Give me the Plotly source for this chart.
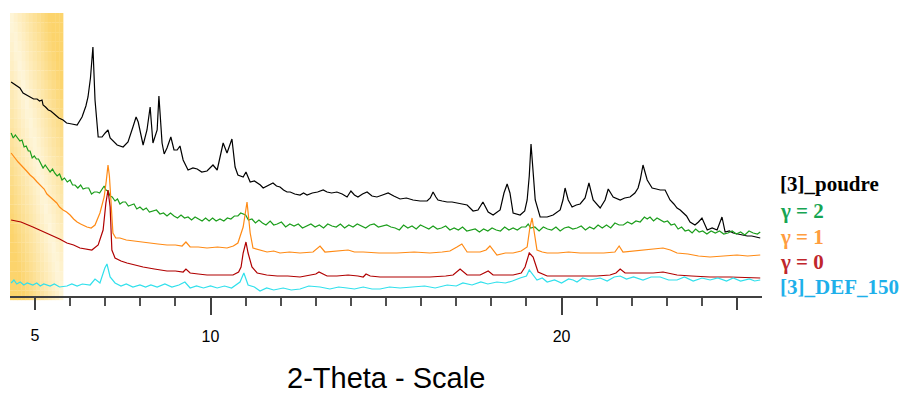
import plotly.graph_objects as go

# ---------------- data (2-Theta in degrees, intensity in arbitrary offset units) ----------------
poudre_tt = [4.32, 4.40, 4.48, 4.57, 4.66, 4.76, 4.86, 4.96, 5.06, 5.13, 5.20, 5.23, 5.30, 5.38, 5.45, 5.51,
             5.60, 5.68, 5.80, 5.90, 6.05, 6.20, 6.34, 6.45, 6.51, 6.58, 6.65, 6.71, 6.80, 6.91, 7.00, 7.08,
             7.14, 7.34, 7.51, 7.65, 7.79, 7.88, 7.94, 8.08, 8.19, 8.28, 8.36, 8.48, 8.53, 8.62, 8.68, 8.76,
             8.87, 8.96, 9.05, 9.13, 9.22, 9.36, 9.50, 9.62, 9.75, 9.90, 10.07, 10.19, 10.36, 10.47, 10.61,
             10.70, 10.78, 10.93, 11.01, 11.13, 11.25, 11.33, 11.42, 11.50, 11.60, 11.70, 11.78, 11.88, 11.98,
             12.08, 12.18, 12.27, 12.40, 12.55, 12.65, 12.75, 12.90, 13.05, 13.21, 13.32, 13.45, 13.60, 13.75,
             13.89, 14.00, 14.10, 14.20, 14.33, 14.46, 14.60, 14.74, 14.90, 15.06, 15.22, 15.40, 15.58, 15.77,
             15.97, 16.17, 16.26, 16.34, 16.42, 16.48, 16.60, 16.74, 16.88, 17.02, 17.16, 17.31, 17.48, 17.62,
             17.76, 17.91, 18.05, 18.18, 18.25, 18.36, 18.45, 18.53, 18.62, 18.82, 18.95, 19.02, 19.08, 19.13,
             19.19, 19.25, 19.39, 19.59, 19.76, 19.96, 20.04, 20.10, 20.19, 20.30, 20.42, 20.53, 20.67, 20.78,
             20.90, 21.10, 21.24, 21.33, 21.47, 21.67, 21.80, 21.95, 22.09, 22.18, 22.24, 22.32, 22.44, 22.58,
             22.70, 22.81, 22.95, 23.09, 23.20, 23.29, 23.38, 23.46, 23.56, 23.66, 23.80, 23.90, 24.00, 24.15,
             24.29, 24.43, 24.57, 24.66, 24.78, 24.89, 25.00, 25.12, 25.29, 25.42, 25.54, 25.66]
poudre_int = [214, 212, 210, 208, 203, 201, 199, 197, 197, 195, 196, 191, 189, 186, 185, 183,
              181, 178, 176, 173, 172, 171, 179, 190, 199, 218, 249, 196, 159, 159, 163, 166,
              158, 151, 149, 154, 169, 179, 174, 151, 166, 189, 153, 166, 200, 153, 142, 148,
              159, 146, 146, 150, 136, 126, 128, 127, 124, 125, 131, 126, 153, 143, 157,
              129, 121, 119, 124, 114, 115, 113, 111, 108, 110, 112, 113, 110, 109,
              106, 104, 104, 102, 101, 103, 101, 103, 104, 106, 104, 103, 104, 102,
              99, 105, 101, 99, 102, 104, 100, 99, 101, 103, 100, 97, 98, 96,
              95, 95, 98, 104, 99, 96, 95, 94, 94, 93, 92, 91, 85, 86,
              94, 84, 81, 84, 86, 103, 112, 103, 83, 81, 85, 96, 120, 152,
              120, 96, 79, 79, 81, 86, 96, 108, 96, 89, 91, 92, 98, 113,
              96, 88, 96, 107, 99, 96, 98, 99, 103, 108, 116, 131, 116, 108,
              107, 106, 106, 96, 92, 88, 86, 83, 80, 74, 71, 74, 78, 66,
              68, 66, 79, 64, 65, 63, 62, 61, 60, 60, 59, 58]

gamma2_tt = [4.32, 4.38, 4.44, 4.50, 4.57, 4.63, 4.69, 4.75, 4.81, 4.86, 4.92, 4.98, 5.04, 5.10, 5.16, 5.23,
             5.29, 5.36, 5.43, 5.50, 5.56, 5.63, 5.70, 5.77, 5.84, 5.92, 6.00, 6.07, 6.14, 6.22, 6.30, 6.37,
             6.45, 6.53, 6.61, 6.69, 6.77, 6.84, 6.91, 6.97, 7.02, 7.08, 7.14, 7.20, 7.28, 7.35, 7.42, 7.50,
             7.58, 7.66, 7.74, 7.82, 7.90, 7.99, 8.08, 8.17, 8.26, 8.36, 8.46, 8.56, 8.66, 8.76, 8.86, 8.96,
             9.06, 9.16, 9.26, 9.36, 9.46, 9.56, 9.66, 9.76, 9.86, 9.96, 10.06, 10.16, 10.27, 10.38, 10.48,
             10.58, 10.68, 10.78, 10.86, 10.92, 11.00, 11.08, 11.18, 11.28, 11.38, 11.48, 11.58, 11.70, 11.80,
             11.90, 12.02, 12.14, 12.26, 12.38, 12.50, 12.62, 12.74, 12.86, 12.98, 13.10, 13.22, 13.34, 13.46,
             13.58, 13.70, 13.82, 13.94, 14.06, 14.18, 14.30, 14.42, 14.54, 14.66, 14.78, 14.90, 15.02, 15.14,
             15.26, 15.38, 15.50, 15.62, 15.74, 15.86, 15.98, 16.10, 16.22, 16.34, 16.46, 16.58, 16.70, 16.82,
             16.94, 17.06, 17.18, 17.30, 17.42, 17.54, 17.66, 17.78, 17.90, 18.02, 18.14, 18.26, 18.38, 18.50,
             18.62, 18.74, 18.86, 18.98, 19.05, 19.12, 19.24, 19.36, 19.48, 19.60, 19.72, 19.84, 19.96, 20.08,
             20.20, 20.32, 20.44, 20.56, 20.68, 20.80, 20.92, 21.04, 21.16, 21.28, 21.40, 21.52, 21.64, 21.76,
             21.88, 22.00, 22.12, 22.24, 22.36, 22.44, 22.52, 22.62, 22.72, 22.82, 22.92, 23.02, 23.12, 23.22,
             23.32, 23.42, 23.52, 23.62, 23.72, 23.82, 23.92, 24.02, 24.14, 24.26, 24.38, 24.50, 24.62, 24.74,
             24.86, 24.98, 25.10, 25.22, 25.34, 25.46, 25.58, 25.66]
gamma2_int = [163, 158, 161, 158, 155, 156, 149, 150, 145, 145, 138, 140, 137, 137, 132, 128,
              131, 128, 124, 127, 123, 120, 122, 116, 118, 114, 116, 111, 111, 108, 111, 107,
              108, 108, 102, 104, 104, 103, 107, 110, 106, 105, 100, 99, 95, 97, 92, 94,
              94, 90, 91, 92, 87, 89, 86, 88, 84, 85, 86, 82, 83, 80, 83, 80,
              78, 81, 78, 79, 76, 79, 77, 75, 78, 75, 78, 75, 77, 75, 78,
              77, 80, 80, 83, 82, 81, 76, 77, 73, 76, 73, 71, 75, 71,
              72, 74, 69, 72, 70, 72, 68, 70, 72, 69, 71, 68, 72, 70,
              69, 72, 68, 71, 69, 72, 70, 68, 71, 72, 69, 70, 71, 69,
              68, 66, 71, 68, 70, 67, 71, 69, 67, 70, 67, 68, 70, 66,
              68, 66, 69, 65, 66, 67, 64, 67, 65, 68, 66, 65, 69, 66,
              68, 66, 69, 69, 72, 68, 69, 65, 69, 67, 66, 69, 65, 68,
              69, 67, 68, 70, 66, 69, 67, 71, 68, 71, 68, 73, 71, 71,
              74, 72, 75, 74, 79, 77, 79, 75, 78, 76, 74, 75, 71, 72,
              67, 69, 65, 66, 63, 67, 64, 65, 62, 65, 63, 65, 62, 63,
              65, 62, 64, 61, 65, 63, 62, 64]

gamma1_tt = [4.32, 4.42, 4.52, 4.60, 4.66, 4.76, 4.86, 4.96, 5.06, 5.16, 5.26, 5.34, 5.43, 5.52, 5.62, 5.70,
             5.80, 5.90, 6.00, 6.10, 6.20, 6.30, 6.40, 6.48, 6.60, 6.71, 6.85, 6.97, 7.03, 7.08, 7.12, 7.17,
             7.22, 7.30, 7.42, 7.60, 7.79, 8.00, 8.28, 8.50, 8.76, 9.00, 9.19, 9.30, 9.42, 9.65, 9.90, 10.20,
             10.47, 10.65, 10.78, 10.93, 11.04, 11.13, 11.21, 11.40, 11.61, 11.80, 11.98, 12.25, 12.55, 12.92,
             13.12, 13.26, 13.55, 13.92, 14.10, 14.35, 14.80, 15.31, 15.80, 16.25, 16.60, 16.82, 17.02, 17.16,
             17.31, 17.50, 17.68, 17.85, 17.96, 18.16, 18.40, 18.62, 18.85, 19.02, 19.10, 19.16, 19.22, 19.30,
             19.45, 19.59, 19.90, 20.20, 20.53, 20.90, 21.20, 21.52, 21.64, 21.75, 22.00, 22.32, 22.60, 22.89,
             23.10, 23.29, 23.60, 23.90, 24.23, 24.60, 25.00, 25.30, 25.66]
gamma1_int = [143, 138, 134, 131, 129, 125, 121, 118, 114, 110, 107, 102, 99, 96, 93, 89,
              86, 84, 81, 77, 74, 72, 70, 69, 68, 71, 83, 99, 115, 131, 120, 96,
              63, 58, 58, 56, 55, 54, 53, 52, 51, 51, 50, 54, 49, 49, 48, 49,
              48, 50, 53, 69, 94, 63, 48, 46, 44, 45, 43, 44, 43, 44,
              50, 44, 45, 46, 44, 44, 43, 43, 44, 43, 44, 45, 49, 52,
              44, 44, 44, 46, 50, 41, 43, 43, 45, 49, 69, 78, 63, 46,
              44, 43, 43, 44, 43, 43, 43, 44, 50, 44, 45, 46, 47, 48,
              46, 43, 42, 40, 39, 40, 41, 40, 41]

gamma0_tt = [4.32, 4.60, 4.94, 5.20, 5.43, 5.70, 5.91, 6.10, 6.28, 6.45, 6.62, 6.80, 6.94, 7.02, 7.08, 7.14,
             7.19, 7.28, 7.45, 7.62, 7.85, 8.08, 8.40, 8.76, 9.00, 9.22, 9.30, 9.42, 9.65, 9.90, 10.30, 10.64,
             10.80, 10.87, 10.93, 11.01, 11.07, 11.18, 11.33, 11.60, 11.90, 12.20, 12.55, 12.83, 13.00, 13.09,
             13.20, 13.32, 13.60, 13.92, 14.20, 14.35, 14.43, 14.55, 14.83, 15.50, 16.25, 16.70, 16.91, 17.11,
             17.31, 17.68, 17.91, 18.05, 18.40, 18.62, 18.85, 18.96, 19.08, 19.19, 19.33, 19.59, 20.00, 20.53,
             21.00, 21.38, 21.55, 21.67, 21.81, 22.20, 22.61, 22.89, 23.29, 23.70, 24.23, 24.80, 25.30, 25.66]
gamma0_int = [76, 74, 69, 65, 61, 57, 53, 51, 48, 47, 46, 51, 66, 93, 106, 89,
              46, 38, 35, 33, 31, 29, 27, 25, 25, 24, 27, 23, 22, 21, 21, 21,
              24, 29, 43, 54, 43, 29, 23, 21, 20, 20, 19, 21, 22, 24,
              22, 20, 20, 21, 20, 19, 22, 20, 19, 19, 19, 20, 21, 27,
              21, 21, 25, 21, 21, 21, 23, 29, 43, 39, 24, 20, 20, 20,
              20, 21, 23, 27, 23, 23, 23, 24, 21, 20, 19, 19, 18, 18]

def150_tt = [4.32, 4.40, 4.48, 4.58, 4.68, 4.78, 4.94, 5.05, 5.15, 5.25, 5.43, 5.55, 5.70, 5.91, 6.05, 6.20,
             6.35, 6.57, 6.71, 6.85, 6.99, 7.05, 7.14, 7.28, 7.45, 7.60, 7.79, 7.99, 8.15, 8.30, 8.48, 8.70,
             8.90, 9.10, 9.27, 9.42, 9.60, 9.80, 10.00, 10.19, 10.40, 10.60, 10.84, 10.95, 11.07, 11.25, 11.41,
             11.60, 11.80, 12.07, 12.30, 12.55, 12.80, 13.12, 13.40, 13.65, 13.89, 14.10, 14.35, 14.60, 14.83,
             15.10, 15.40, 15.77, 16.10, 16.40, 16.74, 17.00, 17.19, 17.45, 17.70, 17.90, 18.16, 18.40, 18.60,
             18.82, 19.00, 19.08, 19.18, 19.30, 19.45, 19.59, 19.80, 20.00, 20.20, 20.33, 20.44, 20.60, 20.80,
             21.10, 21.30, 21.50, 21.67, 21.85, 22.05, 22.32, 22.55, 22.81, 23.05, 23.29, 23.50, 23.75, 24.00,
             24.23, 24.45, 24.70, 24.89, 25.10, 25.35, 25.50, 25.66]
def150_int = [13, 16, 12, 14, 11, 13, 11, 13, 10, 12, 10, 12, 9, 10, 12, 10,
              12, 11, 17, 13, 28, 32, 19, 13, 10, 12, 9, 11, 9, 11, 9, 12,
              9, 11, 14, 8, 10, 8, 10, 8, 10, 8, 14, 23, 11, 9, 5,
              8, 6, 8, 6, 7, 10, 9, 7, 9, 8, 7, 9, 7, 7,
              9, 8, 9, 10, 8, 11, 10, 13, 11, 14, 12, 14, 13, 15,
              18, 20, 26, 21, 16, 18, 14, 16, 13, 17, 16, 14, 18, 16,
              18, 15, 19, 20, 17, 19, 16, 19, 19, 16, 16, 19, 15, 18,
              16, 18, 15, 18, 15, 17, 15, 16]

series_names = ["[3]_poudre", "γ = 2", "γ = 1", "γ = 0", "[3]_DEF_150"]
series_colors = ["#000000", "#1c9e1c", "#ff8a14", "#b00000", "#30e0ec"]
label_colors = ["#000000", "#17a553", "#ff9d3f", "#c0262c", "#1eb0ea"]

x_major_ticks = [10, 20]
x_major_labels = ["10", "20"]
x_mid_ticks = [5, 25]
x_mid_labels = ["5", ""]
x_title = "2-Theta - Scale"

# ---------------- figure ----------------
X0, X1 = 4.288, 25.71
fig = go.Figure()
all_tt = [poudre_tt, gamma2_tt, gamma1_tt, gamma0_tt, def150_tt]
all_int = [poudre_int, gamma2_int, gamma1_int, gamma0_int, def150_int]
for tt, it, name, col in zip(all_tt, all_int, series_names, series_colors):
    fig.add_trace(go.Scatter(x=tt, y=it, mode="lines", name=name,
                             line=dict(color=col, width=1.2), showlegend=False))

# invisible trace to activate the secondary x axis (medium ticks at 5 and 25)
fig.add_trace(go.Scatter(x=[X0], y=[None], xaxis="x2", mode="lines", showlegend=False, hoverinfo="skip"))

# gold gradient band (left region)
gold = (252, 212, 108)
pale = (255, 246, 218)
ncol, nrow = 14, 30
bx0, bx1 = 0.0, (63 - 10) / 752
by0, by1 = -4 / 296, 1 - 13 / 296
shapes = []
for i in range(ncol):
    u = (i + 0.5) / ncol
    for j in range(nrow):
        v = (j + 0.5) / nrow  # 0 top, 1 bottom
        g = min(1.0, abs(u - v) * 1.35)
        c = tuple(int(pale[k] + (gold[k] - pale[k]) * g) for k in range(3))
        shapes.append(dict(type="rect", xref="paper", yref="paper", layer="below",
                           x0=bx0 + (bx1 - bx0) * i / ncol, x1=bx0 + (bx1 - bx0) * (i + 1) / ncol + 0.0005,
                           y1=by1 - (by1 - by0) * j / nrow, y0=by1 - (by1 - by0) * (j + 1) / nrow - 0.0005,
                           line=dict(width=0), fillcolor="rgb(%d,%d,%d)" % c))

annotations = []
label_py = [184, 211, 237, 262, 287]
for name, col, py in zip(series_names, label_colors, label_py):
    annotations.append(dict(text="<b>%s</b>" % name, xref="paper", yref="paper",
                            x=(778 - 10) / 752, y=(296 - py) / 296, xanchor="left", yanchor="middle",
                            showarrow=False, font=dict(family="Liberation Serif, Times New Roman, serif",
                                                       size=21, color=col)))
annotations.append(dict(text=x_title, xref="paper", yref="paper", x=0.5, y=(296 - 378) / 296,
                        xanchor="center", yanchor="middle", showarrow=False, borderpad=0,
                        font=dict(family="Liberation Sans, Arial, sans-serif", size=29, color="#000000")))

fig.update_layout(
    width=904, height=394,
    margin=dict(l=10, r=142, t=0, b=98, pad=0),
    plot_bgcolor="white", paper_bgcolor="white",
    shapes=shapes, annotations=annotations,
    xaxis=dict(range=[X0, X1], showgrid=False, zeroline=False,
               showline=True, linecolor="#404040", linewidth=2,
               tickmode="array", tickvals=x_major_ticks, ticktext=x_major_labels,
               ticks="outside", ticklen=17, tickwidth=1.5, tickcolor="#404040",
               ticklabelstandoff=8,
               tickfont=dict(family="Liberation Sans, Arial, sans-serif", size=16, color="#000000"),
               minor=dict(dtick=1, tick0=0, ticks="outside", ticklen=8, tickwidth=1.5, tickcolor="#505050",
                          showgrid=False)),
    xaxis2=dict(range=[X0, X1], overlaying="x", side="bottom", showgrid=False, zeroline=False,
                showline=False, tickmode="array", tickvals=x_mid_ticks, ticktext=x_mid_labels,
                ticks="outside", ticklen=13, tickwidth=1.5, tickcolor="#404040",
                ticklabelstandoff=12,
                tickfont=dict(family="Liberation Sans, Arial, sans-serif", size=16, color="#000000")),
    yaxis=dict(range=[0, 296], visible=False, showgrid=False, zeroline=False),
)

fig.write_html("out.html", config={"displayModeBar": False},
               post_script="document.body.style.margin='0px';document.body.style.padding='0px';")
